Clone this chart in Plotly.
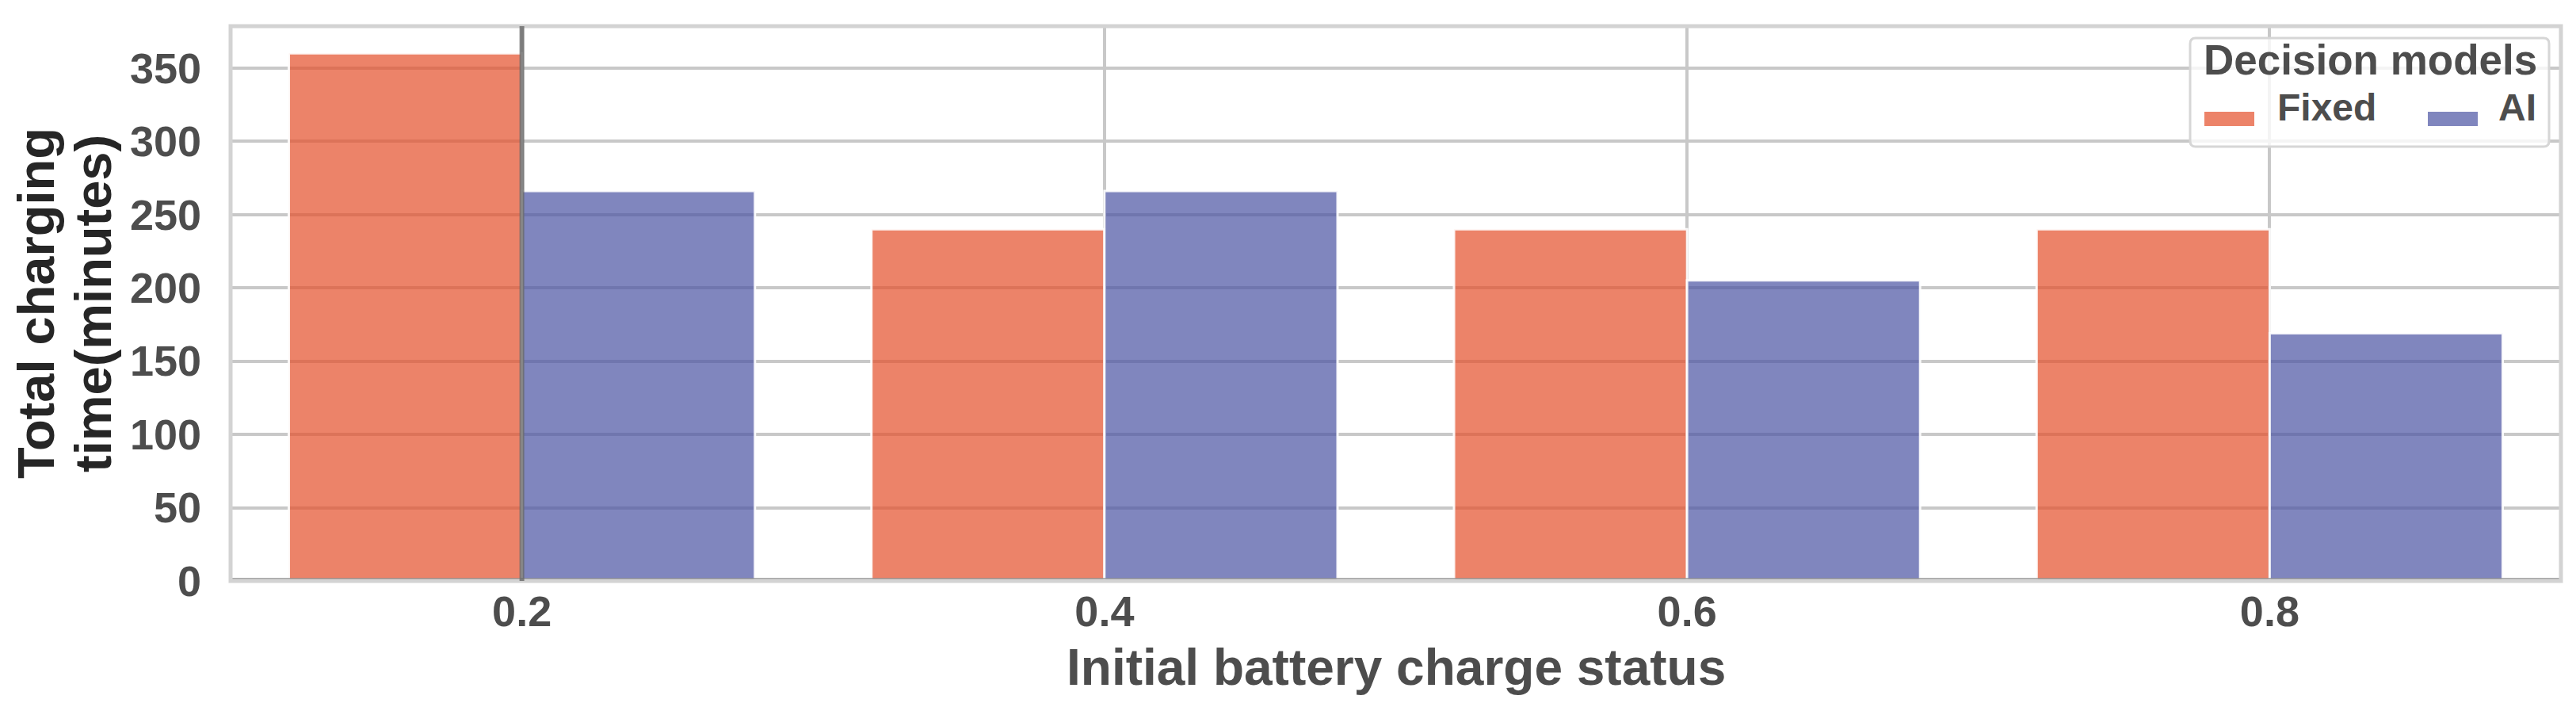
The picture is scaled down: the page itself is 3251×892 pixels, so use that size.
import plotly.graph_objects as go

# ---- data ----
categories = ["0.2", "0.4", "0.6", "0.8"]
fixed_values = [360, 240, 240, 240]
ai_values = [266, 266, 205, 169]
series_names = ["Fixed", "AI"]
y_ticks = [0, 50, 100, 150, 200, 250, 300, 350]
x_title = "Initial battery charge status"
y_title_lines = ["Total charging", "time(minutes)"]
legend_title = "Decision models"

# ---- style ----
W, H = 3251, 892
L, R, T, B = 283, 3224, 25, 725  # plot area in pixels
PW, PH = R - L, B - T
FONT = "Liberation Sans, Arial, sans-serif"
TXT = "#4d4d4d"
C_FIXED = "rgba(228,78,42,0.7)"
C_AI = "rgba(74,82,162,0.7)"
GRID = "#c8c8c8"
FRAME = "#d3d3d3"


def px_x(px):
    return (px - L) / PW


def px_y(py):
    return (B - py) / PH


fig = go.Figure()
for name, vals, col in [(series_names[0], fixed_values, C_FIXED), (series_names[1], ai_values, C_AI)]:
    fig.add_trace(go.Bar(
        x=categories, y=vals, name=name,
        marker=dict(color=col, line=dict(color="rgba(255,255,255,0.9)", width=3)),
        showlegend=False,
    ))

fig.update_layout(
    width=W, height=H,
    margin=dict(l=L, r=W - R, t=T, b=H - B, autoexpand=False),
    paper_bgcolor="white", plot_bgcolor="white",
    barmode="group", bargap=0.2, bargroupgap=0,
    font=dict(family=FONT, color=TXT),
    showlegend=False,
)
fig.update_xaxes(
    type="category", range=[-0.5, len(categories) - 0.5],
    showgrid=True, gridcolor=GRID, gridwidth=4,
    showline=False, zeroline=False, ticks="",
    tickfont=dict(family=FONT, size=54, color=TXT, weight="bold"),
    ticklabelstandoff=2,
)
fig.update_yaxes(
    range=[0, 378.5], tickvals=y_ticks,
    showgrid=True, gridcolor=GRID, gridwidth=4,
    showline=False, zeroline=False, ticks="",
    tickfont=dict(family=FONT, size=54, color=TXT, weight="bold"),
    ticklabelstandoff=36,
)

shapes = []
# thin dark baseline just above the bottom spine
shapes.append(dict(type="line", xref="paper", yref="paper", x0=0, x1=1, y0=px_y(722), y1=px_y(722),
                   line=dict(color="#8a8a8a", width=1.5), layer="above"))
# frame (spines centred on the plot edges)
shapes.append(dict(type="rect", xref="paper", yref="paper", x0=0, x1=1, y0=0, y1=1,
                   line=dict(color=FRAME, width=5), fillcolor="rgba(0,0,0,0)", layer="above"))
# dark vertical line at the first category
first_idx = categories.index(categories[0])
shapes.append(dict(type="line", xref="x", yref="paper", x0=first_idx, x1=first_idx, y0=0, y1=1,
                   line=dict(color="rgba(105,105,105,0.8)", width=6), layer="above"))

# manual legend box with rounded corners
bx0, bx1, by0, by1 = 2756, 3209, 40, 177
r = 7
rx, ry = r / PW, r / PH
X0, X1, Y0, Y1 = px_x(bx0), px_x(bx1), px_y(by1), px_y(by0)
path = (f"M {X0+rx},{Y0} L {X1-rx},{Y0} Q {X1},{Y0} {X1},{Y0+ry} "
        f"L {X1},{Y1-ry} Q {X1},{Y1} {X1-rx},{Y1} L {X0+rx},{Y1} "
        f"Q {X0},{Y1} {X0},{Y1-ry} L {X0},{Y0+ry} Q {X0},{Y0} {X0+rx},{Y0} Z")
shapes.append(dict(type="path", xref="paper", yref="paper", path=path,
                   fillcolor="rgba(255,255,255,0.8)", line=dict(color="#d6d6d6", width=3), layer="above"))
# legend swatches
for (sx0, sx1), col in [((2774, 2837), C_FIXED), ((3056, 3119), C_AI)]:
    shapes.append(dict(type="rect", xref="paper", yref="paper",
                       x0=px_x(sx0), x1=px_x(sx1), y0=px_y(151), y1=px_y(133),
                       fillcolor=col, line=dict(width=0), layer="above"))
fig.update_layout(shapes=shapes)

ann = []
# y title (two lines)
for text, cx in [(y_title_lines[0], 37), (y_title_lines[1], 109)]:
    ann.append(dict(text=text, xref="paper", yref="paper", x=0, y=px_y(375), xshift=cx - L,
                    xanchor="center", yanchor="middle", textangle=-90, showarrow=False,
                    font=dict(family=FONT, size=65, color="#262626", weight="bold")))
# x title
ann.append(dict(text=x_title, xref="paper", yref="paper", x=0.5, y=0, yshift=-(834 - B),
                xanchor="center", yanchor="middle", showarrow=False,
                font=dict(family=FONT, size=64, color=TXT, weight="bold")))
# legend texts
ann.append(dict(text=legend_title, xref="paper", yref="paper", x=px_x(2983), y=px_y(67),
                xanchor="center", yanchor="middle", showarrow=False,
                font=dict(family=FONT, size=53, color=TXT, weight="bold")))
ann.append(dict(text=series_names[0], xref="paper", yref="paper", x=px_x(2864), y=px_y(128),
                xanchor="left", yanchor="middle", showarrow=False,
                font=dict(family=FONT, size=48, color=TXT, weight="bold")))
ann.append(dict(text=series_names[1], xref="paper", yref="paper", x=px_x(3195), y=px_y(128),
                xanchor="right", yanchor="middle", showarrow=False,
                font=dict(family=FONT, size=48, color=TXT, weight="bold")))
fig.update_layout(annotations=ann)

fig.write_html("out.html")
